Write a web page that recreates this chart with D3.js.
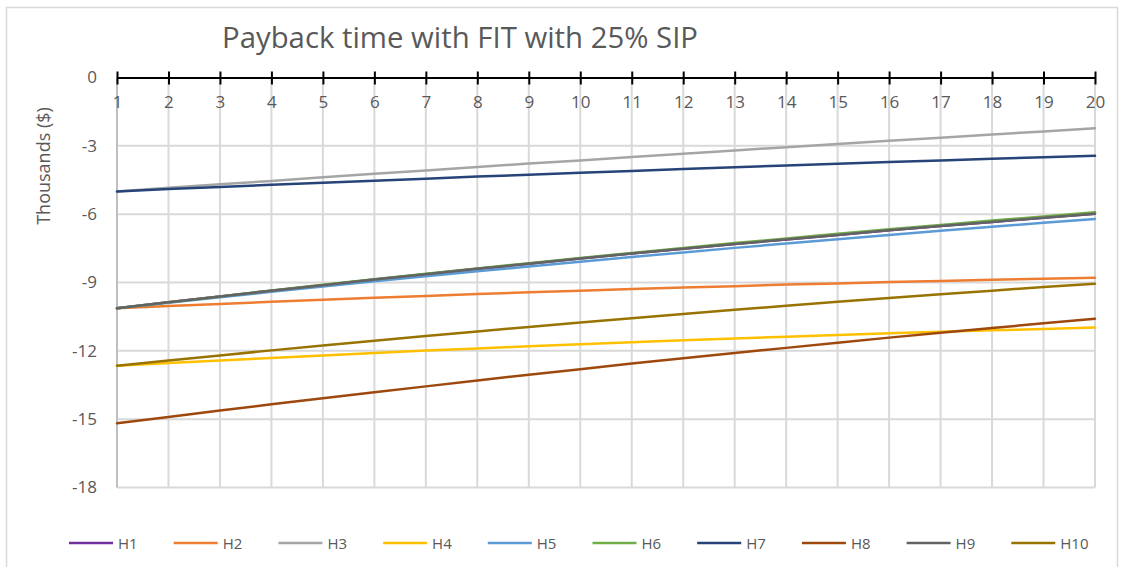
<!DOCTYPE html>
<html>
<head>
<meta charset="utf-8">
<script src="https://cdn.jsdelivr.net/npm/d3@7"></script>
<style>
	body { margin: 0; background: #ffffff; }
	text { font-family: 'Open Sans', 'Noto Sans', sans-serif; fill: #595959; }
</style>
</head>
<body>
<div id="svg"></div>
<script>
var width = 1124;
var height = 567;

// chart data
var years = d3.range(1, 21);
var series_names = ['H1', 'H2', 'H3', 'H4', 'H5', 'H6', 'H7', 'H8', 'H9', 'H10'];
var series_colors = ['#7030a0', '#ed7d31', '#a5a5a5', '#ffc000', '#5b9bd5', '#70ad47', '#264478', '#9e480e', '#636363', '#997300'];
var y_ticks = [0, -3, -6, -9, -12, -15, -18];

var h1 = [-10.13, -9.87, -9.61, -9.36, -9.12, -8.87, -8.64, -8.40, -8.18, -7.95, -7.73, -7.52, -7.31, -7.11, -6.91, -6.71, -6.52, -6.34, -6.16, -5.98];
var h2 = [-10.13, -10.03, -9.94, -9.85, -9.76, -9.67, -9.59, -9.51, -9.43, -9.36, -9.29, -9.22, -9.16, -9.09, -9.04, -8.98, -8.93, -8.88, -8.83, -8.79];
var h3 = [-5.00, -4.84, -4.69, -4.54, -4.38, -4.23, -4.08, -3.93, -3.78, -3.64, -3.49, -3.35, -3.20, -3.06, -2.92, -2.78, -2.64, -2.50, -2.37, -2.23];
var h4 = [-12.65, -12.53, -12.42, -12.31, -12.20, -12.09, -11.99, -11.90, -11.80, -11.71, -11.62, -11.54, -11.46, -11.38, -11.30, -11.23, -11.16, -11.10, -11.04, -10.98];
var h5 = [-10.13, -9.89, -9.65, -9.41, -9.18, -8.95, -8.73, -8.51, -8.30, -8.09, -7.88, -7.68, -7.48, -7.29, -7.10, -6.91, -6.73, -6.55, -6.38, -6.21];
var h6 = [-10.13, -9.87, -9.61, -9.35, -9.10, -8.86, -8.62, -8.38, -8.15, -7.92, -7.70, -7.49, -7.27, -7.07, -6.86, -6.66, -6.47, -6.28, -6.10, -5.92];
var h7 = [-5.00, -4.90, -4.81, -4.71, -4.62, -4.53, -4.44, -4.35, -4.27, -4.18, -4.10, -4.02, -3.94, -3.86, -3.79, -3.71, -3.64, -3.57, -3.50, -3.43];
var h8 = [-15.18, -14.90, -14.62, -14.35, -14.08, -13.82, -13.56, -13.30, -13.05, -12.81, -12.56, -12.33, -12.09, -11.87, -11.64, -11.42, -11.21, -11.00, -10.79, -10.59];
var h9 = [-10.13, -9.87, -9.61, -9.36, -9.12, -8.87, -8.64, -8.40, -8.18, -7.95, -7.73, -7.52, -7.31, -7.11, -6.91, -6.71, -6.52, -6.34, -6.16, -5.98];
var h10 = [-12.65, -12.42, -12.20, -11.98, -11.77, -11.56, -11.35, -11.15, -10.95, -10.76, -10.57, -10.38, -10.20, -10.02, -9.85, -9.68, -9.52, -9.36, -9.20, -9.05];

var series_values = [h1, h2, h3, h4, h5, h6, h7, h8, h9, h10];

var plot = { left: 117, right: 1095, top: 77.5, bottom: 487.5 };

var canvas = d3.select('#svg')
	.append('svg')
	.attr('width', width)
	.attr('height', height);

function main()
{ // main()
	render();
} // End main

function render()
{
	var x = d3.scaleLinear()
		.domain([1, 20])
		.range([plot.left, plot.right]);

	var y = d3.scaleLinear()
		.domain([-18, 0])
		.range([plot.bottom, plot.top]);

	// chart frame
	canvas.append('rect')
		.attr('x', 6.5)
		.attr('y', 7.5)
		.attr('width', 1111)
		.attr('height', 570)
		.attr('fill', 'none')
		.attr('stroke', '#d9d9d9')
		.attr('stroke-width', 1.5);

	// title
	canvas.append('text')
		.attr('x', 460)
		.attr('y', 48)
		.attr('text-anchor', 'middle')
		.attr('textLength', 476)
		.attr('lengthAdjust', 'spacingAndGlyphs')
		.style('font-size', '29px')
		.text('Payback time with FIT with 25% SIP');

	var grid = canvas.append('g');

	// horizontal gridlines
	grid.selectAll('.hgrid')
		.data(y_ticks.filter((d) => d != 0))
		.enter().append('line')
			.attr('x1', plot.left)
			.attr('x2', plot.right)
			.attr('y1', (d) => y(d))
			.attr('y2', (d) => y(d))
			.attr('stroke', '#d9d9d9')
			.attr('stroke-width', 2);

	// vertical gridlines
	grid.selectAll('.vgrid')
		.data(years.filter((d) => d != 1))
		.enter().append('line')
			.attr('x1', (d) => x(d))
			.attr('x2', (d) => x(d))
			.attr('y1', plot.top)
			.attr('y2', plot.bottom)
			.attr('stroke', '#d9d9d9')
			.attr('stroke-width', 2);

	// y axis line
	canvas.append('line')
		.attr('x1', plot.left)
		.attr('x2', plot.left)
		.attr('y1', plot.top)
		.attr('y2', plot.bottom)
		.attr('stroke', '#bfbfbf')
		.attr('stroke-width', 2);

	// y axis labels (plain hyphen, as in the original)
	var y_axis = canvas.append('g')
		.attr('transform', 'translate(' + (plot.left - 20) + ',0)')
		.call(d3.axisLeft(y).tickValues(y_ticks).tickSize(0).tickPadding(0).tickFormat((d) => String(d)));
	y_axis.select('.domain').remove();
	y_axis.selectAll('text')
		.style('font-size', '17px')
		.style('fill', '#595959')
		.style('font-family', "'Open Sans', sans-serif");

	canvas.append('text')
		.attr('transform', 'translate(50,166) rotate(-90)')
		.attr('text-anchor', 'middle')
		.style('font-size', '18px')
		.text('Thousands ($)');

	// lines
	var line = d3.line()
		.x((d, i) => x(years[i]))
		.y((d) => y(d));

	canvas.append('g').selectAll('.series')
		.data(series_values)
		.enter().append('path')
			.attr('class', 'series')
			.attr('d', line)
			.attr('fill', 'none')
			.attr('stroke', (d, i) => series_colors[i])
			.attr('stroke-width', 2.5)
			.attr('stroke-linecap', 'round');

	// x axis at value 0 (top), ticks cross the line
	var x_axis = canvas.append('g')
		.attr('transform', 'translate(0,' + y(0) + ')')
		.call(d3.axisBottom(x).tickValues(years).tickSize(0).tickPadding(18).tickFormat((d) => String(d)));
	x_axis.select('.domain')
		.attr('stroke', '#000000')
		.attr('stroke-width', 2);
	x_axis.selectAll('.tick line')
		.attr('y1', -6)
		.attr('y2', 7)
		.attr('stroke', '#000000')
		.attr('stroke-width', 2);
	x_axis.selectAll('text')
		.style('font-size', '17px')
		.style('fill', '#595959')
		.style('font-family', "'Open Sans', sans-serif");

	// legend
	var legend = canvas.append('g')
		.attr('transform', 'translate(69,543)');

	var item = legend.selectAll('.item')
		.data(series_names)
		.enter().append('g')
			.attr('class', 'item')
			.attr('transform', (d, i) => 'translate(' + (i * 104.7) + ',0)');

	item.append('line')
		.attr('x1', 0)
		.attr('x2', 44)
		.attr('stroke', (d, i) => series_colors[i])
		.attr('stroke-width', 2.5);

	item.append('text')
		.attr('x', 49)
		.attr('y', 5.5)
		.style('font-size', '15px')
		.text((d) => d);
}

main();
</script>
</body>
</html>
